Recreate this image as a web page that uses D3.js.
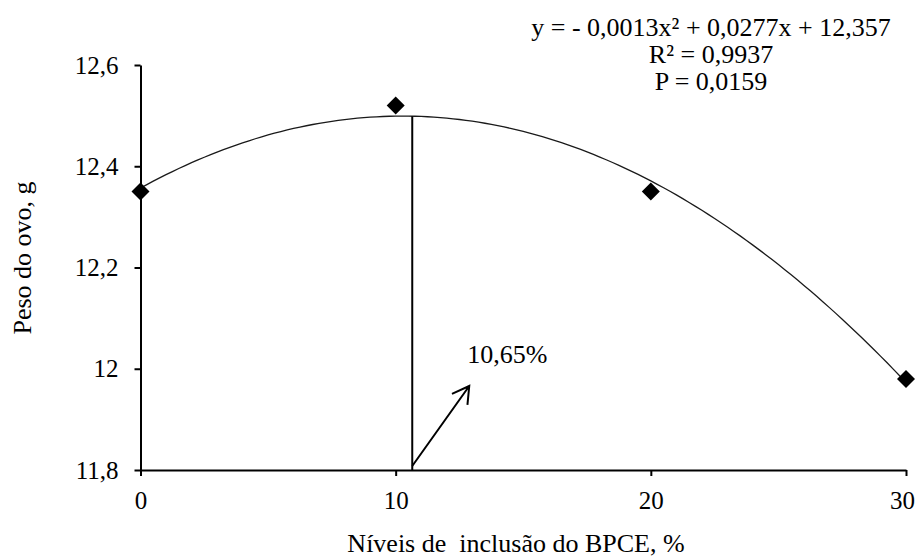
<!DOCTYPE html>
<html>
<head>
<meta charset="utf-8">
<script src="https://cdn.jsdelivr.net/npm/d3@7/dist/d3.min.js"></script>
<style>
  html, body { margin: 0; padding: 0; background: #fff; }
  svg { display: block; }
</style>
</head>
<body>
<svg id="chart" width="915" height="560"></svg>
<script>
// Egg weight by inclusion level
const inclusionLevels = [0, 10, 20, 30];
const eggWeight = [12.35, 12.52, 12.35, 11.98];

const xTickValues = [0, 10, 20, 30];
const xTickLabels = ["0", "10", "20", "30"];
const yTickValues = [11.8, 12.0, 12.2, 12.4, 12.6];
const yTickLabels = ["11,8", "12", "12,2", "12,4", "12,6"];

const equationLines = ["y = - 0,0013x² + 0,0277x + 12,357", "R² = 0,9937", "P = 0,0159"];
const optimumLevel = 10.65;
const optimumLabel = "10,65%";

const xTitle = "Níveis de  inclusão do BPCE, %";
const yTitle = "Peso do ovo, g";

const FONT = "Liberation Serif";

const svg = d3.select("#chart");

const x = d3.scaleLinear().domain([0, 30]).range([140.5, 906]);
const y = d3.scaleLinear().domain([11.8, 12.6]).range([470, 65]);

// Least-squares quadratic trendline through the observed points
function quadFit(xs, ys) {
  const S = k => d3.sum(xs, v => Math.pow(v, k));
  const T = k => d3.sum(xs.map((v, i) => Math.pow(v, k) * ys[i]));
  const A = [[S(0), S(1), S(2), T(0)],
             [S(1), S(2), S(3), T(1)],
             [S(2), S(3), S(4), T(2)]];
  for (let i = 0; i < 3; i++) {
    for (let r = i + 1; r < 3; r++) {
      const f = A[r][i] / A[i][i];
      for (let c = i; c < 4; c++) A[r][c] -= f * A[i][c];
    }
  }
  const coef = [0, 0, 0];
  for (let i = 2; i >= 0; i--) {
    let s = A[i][3];
    for (let c = i + 1; c < 3; c++) s -= A[i][c] * coef[c];
    coef[i] = s / A[i][i];
  }
  return v => coef[0] + coef[1] * v + coef[2] * v * v;
}
const trend = quadFit(inclusionLevels, eggWeight);

// Axes
const xAxis = d3.axisBottom(x)
  .tickValues(xTickValues)
  .tickFormat((d, i) => xTickLabels[i])
  .tickSizeInner(6).tickSizeOuter(0).tickPadding(15);
const yAxis = d3.axisLeft(y)
  .tickValues(yTickValues)
  .tickFormat((d, i) => yTickLabels[i])
  .tickSizeInner(6).tickSizeOuter(0).tickPadding(16);

const gx = svg.append("g").attr("transform", `translate(0,${y(11.8)})`).call(xAxis);
const gy = svg.append("g").attr("transform", `translate(${x(0)},0)`).call(yAxis);

[gx, gy].forEach(g => {
  g.attr("font-family", FONT).attr("font-size", 25);
  g.select(".domain").attr("stroke", "#000").attr("stroke-width", 2);
  g.selectAll(".tick line").attr("stroke", "#000").attr("stroke-width", 2);
  g.selectAll(".tick text")
    .attr("fill", "#000")
    .attr("font-family", FONT)
    .attr("font-size", 25);
});
// keep the last x label inside the frame
gx.selectAll(".tick text").filter(d => d === 30).attr("dx", -4);

// Trendline
const curvePts = d3.range(0, 30.0001, 0.25).map(v => [v, trend(v)]);
svg.append("path")
  .datum(curvePts)
  .attr("fill", "none")
  .attr("stroke", "#1a1a1a")
  .attr("stroke-width", 1.3)
  .attr("d", d3.line().x(d => x(d[0])).y(d => y(d[1])));

// Optimum level marker line
const xOpt = x(optimumLevel);
svg.append("line")
  .attr("x1", xOpt).attr("x2", xOpt)
  .attr("y1", y(11.8)).attr("y2", y(trend(optimumLevel)))
  .attr("stroke", "#000").attr("stroke-width", 2);

// Observed means as diamonds
const r = 9;
svg.append("g").selectAll("path")
  .data(inclusionLevels.map((v, i) => [v, eggWeight[i]]))
  .join("path")
  .attr("transform", d => `translate(${x(d[0])},${y(d[1])})`)
  .attr("d", `M0,${-r}L${r},0L0,${r}L${-r},0Z`)
  .attr("fill", "#000");

// Arrow pointing to the optimum level
const ax0 = xOpt, ay0 = y(11.8) - 4;
const ax1 = ax0 + 57, ay1 = ay0 - 80;
const ang = Math.atan2(ay0 - ay1, ax0 - ax1);
const headLen = 19, spread = Math.PI / 6;
const h1 = [ax1 + headLen * Math.cos(ang - spread), ay1 + headLen * Math.sin(ang - spread)];
const h2 = [ax1 + headLen * Math.cos(ang + spread), ay1 + headLen * Math.sin(ang + spread)];
svg.append("path")
  .attr("d", `M${ax0},${ay0}L${ax1},${ay1}M${h1[0]},${h1[1]}L${ax1},${ay1}L${h2[0]},${h2[1]}`)
  .attr("fill", "none").attr("stroke", "#000").attr("stroke-width", 2)
  .attr("stroke-linejoin", "miter");

svg.append("text")
  .attr("x", ax1 - 2).attr("y", ay1 - 23)
  .attr("font-family", FONT)
  .attr("font-size", 26)
  .attr("fill", "#000")
  .text(optimumLabel);

// Regression equation block
svg.append("g").selectAll("text")
  .data(equationLines)
  .join("text")
  .attr("x", 711)
  .attr("y", (d, i) => 36 + i * 27)
  .attr("text-anchor", "middle")
  .attr("font-family", FONT)
  .attr("font-size", 26)
  .attr("fill", "#000")
  .text(d => d);

// Axis titles
svg.append("text")
  .attr("x", 516).attr("y", 552)
  .attr("text-anchor", "middle")
  .attr("xml:space", "preserve")
  .style("white-space", "pre")
  .attr("font-family", FONT)
  .attr("font-size", 26)
  .attr("fill", "#000")
  .text(xTitle);

svg.append("text")
  .attr("transform", "translate(31,258) rotate(-90)")
  .attr("text-anchor", "middle")
  .attr("font-family", FONT)
  .attr("font-size", 26)
  .attr("fill", "#000")
  .text(yTitle);
</script>
</body>
</html>
